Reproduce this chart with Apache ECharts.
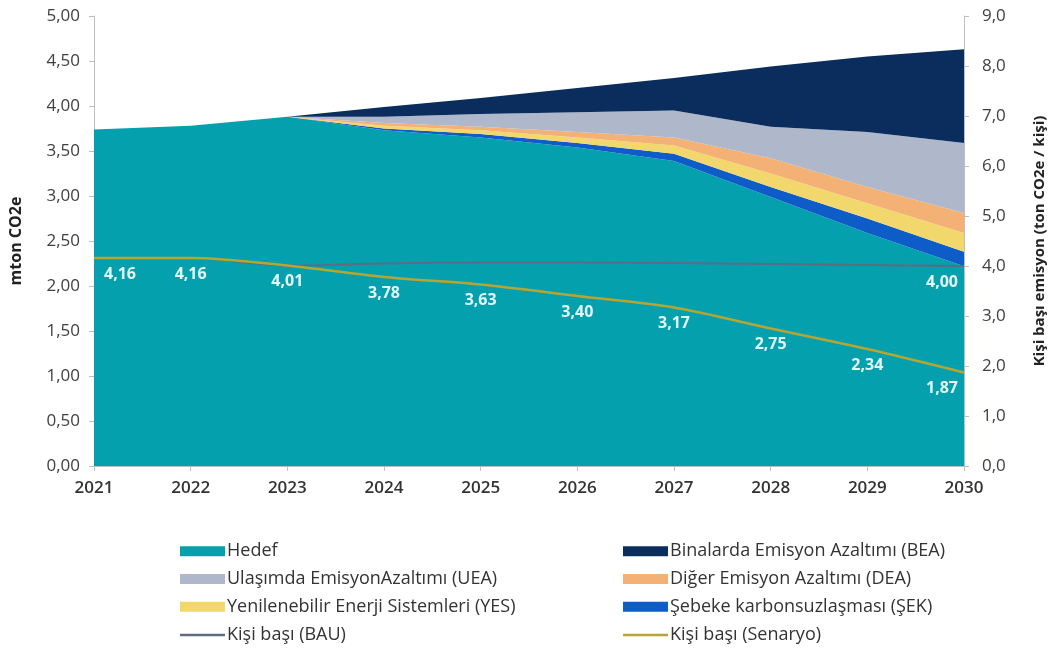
<!DOCTYPE html>
<html>
<head>
<meta charset="utf-8">
<script src="https://cdn.jsdelivr.net/npm/echarts@6/dist/echarts.min.js"></script>
<style>
  html, body { margin: 0; padding: 0; background: #fff; }
  #chart { width: 1055px; height: 660px; }
</style>
</head>
<body>
<div id="chart"></div>
<script>
  const years = ['2021', '2022', '2023', '2024', '2025', '2026', '2027', '2028', '2029', '2030'];

  // stacked areas, mton CO2e (left axis)
  const hedef = [3.74, 3.78, 3.88, 3.73, 3.65, 3.54, 3.39, 2.99, 2.59, 2.22];
  const sek = [0, 0, 0, 0.02, 0.04, 0.05, 0.08, 0.11, 0.16, 0.16];
  const yes = [0, 0, 0, 0.03, 0.04, 0.06, 0.09, 0.15, 0.17, 0.21];
  const dea = [0, 0, 0, 0.03, 0.04, 0.06, 0.09, 0.17, 0.18, 0.22];
  const uea = [0, 0, 0, 0.07, 0.14, 0.22, 0.30, 0.35, 0.61, 0.78];
  const bea = [0, 0, 0, 0.11, 0.18, 0.27, 0.36, 0.67, 0.84, 1.04];

  // per-capita lines, ton CO2e / kişi (right axis)
  const kisiBau = [4.16, 4.16, 4.01, 4.05, 4.07, 4.07, 4.06, 4.04, 4.02, 4.00];
  const kisiSenaryo = [4.16, 4.16, 4.01, 3.78, 3.63, 3.40, 3.17, 2.75, 2.34, 1.87];

  const leftTicks = [0, 0.5, 1, 1.5, 2, 2.5, 3, 3.5, 4, 4.5, 5];
  const rightTicks = [0, 1, 2, 3, 4, 5, 6, 7, 8, 9];

  const FONT = 'Open Sans';
  const comma = (v, d) => v.toFixed(d).replace('.', ',');
  // thin bar inside a 45x10 box, used as legend icon for the two lines
  const LINE_ICON = 'path://M0,0L45,0L45,0.01L0,0.01Z M0,4L45,4L45,6.5L0,6.5Z M0,10L45,10L45,10.01L0,10.01Z';

  const chart = echarts.init(document.getElementById('chart'));

  function area(name, data, color) {
    return {
      name: name,
      type: 'line',
      stack: 'total',
      data: data,
      symbol: 'none',
      lineStyle: { width: 0 },
      areaStyle: { color: color, opacity: 1 },
      itemStyle: { color: color },
      z: 2,
    };
  }

  const senaryoData = kisiSenaryo.map((v, i) => {
    const item = { value: v };
    if (i === 0) item.label = { offset: [26, 0] };
    if (i === kisiSenaryo.length - 1) item.label = { offset: [-22, 0] };
    return item;
  });

  const bauData = kisiBau.map((v, i) => {
    if (i === kisiBau.length - 1) {
      return { value: v, label: { show: true, offset: [-22, 0] } };
    }
    return v;
  });

  const labelStyle = {
    position: 'bottom',
    distance: 8,
    color: '#E4F7F9',
    fontFamily: FONT,
    fontSize: 16,
    fontWeight: 'bold',
    formatter: p => comma(p.value, 2),
  };

  const legendBase = {
    orient: 'vertical',
    top: 537,
    itemWidth: 45,
    itemHeight: 10,
    itemGap: 9.3,
    textStyle: { color: '#333', fontSize: 18, lineHeight: 18.5, fontFamily: FONT, padding: [0, 0, 0, -3] },
  };

  const option = {
    animation: false,
    textStyle: { fontFamily: FONT },
    grid: { left: 89, right: 87, top: 16, bottom: 194 },
    xAxis: {
      type: 'category',
      data: years,
      boundaryGap: false,
      axisLine: { lineStyle: { color: '#BFBFBF' } },
      axisTick: { show: true, length: 5, lineStyle: { color: '#BFBFBF' } },
      axisLabel: { color: '#333', fontSize: 17, fontWeight: 600, margin: 14, fontFamily: FONT },
      splitLine: { show: false },
    },
    yAxis: [
      {
        type: 'value',
        min: leftTicks[0],
        max: leftTicks[leftTicks.length - 1],
        interval: 0.5,
        name: 'mton CO2e',
        nameLocation: 'middle',
        nameRotate: 90,
        nameGap: 70,
        nameTextStyle: { color: '#222', fontSize: 16, fontWeight: 'bold', fontFamily: FONT },
        axisLine: { show: true, lineStyle: { color: '#BFBFBF' } },
        axisTick: { show: true, length: 5, lineStyle: { color: '#BFBFBF' } },
        axisLabel: { color: '#404040', fontSize: 17, margin: 14, formatter: v => comma(v, 2), fontFamily: FONT },
        splitLine: { show: false },
      },
      {
        type: 'value',
        min: rightTicks[0],
        max: rightTicks[rightTicks.length - 1],
        interval: 1,
        name: 'Kişi başı emisyon (ton CO2e / kişi)',
        nameLocation: 'middle',
        nameRotate: 90,
        nameGap: 68,
        nameTextStyle: { color: '#222', fontSize: 15, fontWeight: 'bold', fontFamily: FONT },
        axisLine: { show: true, lineStyle: { color: '#BFBFBF' } },
        axisTick: { show: true, length: 5, lineStyle: { color: '#BFBFBF' } },
        axisLabel: { color: '#404040', fontSize: 17, margin: 18, formatter: v => comma(v, 1), fontFamily: FONT },
        splitLine: { show: false },
      },
    ],
    legend: [
      Object.assign({}, legendBase, {
        left: 175,
        data: [
          { name: 'Hedef', icon: 'rect' },
          { name: 'Ulaşımda EmisyonAzaltımı (UEA)', icon: 'rect' },
          { name: 'Yenilenebilir Enerji Sistemleri (YES)', icon: 'rect' },
          { name: 'Kişi başı (BAU)', icon: LINE_ICON },
        ],
      }),
      Object.assign({}, legendBase, {
        left: 618,
        data: [
          { name: 'Binalarda Emisyon Azaltımı (BEA)', icon: 'rect' },
          { name: 'Diğer Emisyon Azaltımı (DEA)', icon: 'rect' },
          { name: 'Şebeke karbonsuzlaşması (ŞEK)', icon: 'rect' },
          { name: 'Kişi başı (Senaryo)', icon: LINE_ICON },
        ],
      }),
    ],
    series: [
      area('Hedef', hedef, '#05A0AE'),
      area('Şebeke karbonsuzlaşması (ŞEK)', sek, '#0E5CC8'),
      area('Yenilenebilir Enerji Sistemleri (YES)', yes, '#F2D86C'),
      area('Diğer Emisyon Azaltımı (DEA)', dea, '#F4B176'),
      area('Ulaşımda EmisyonAzaltımı (UEA)', uea, '#AEB8CA'),
      area('Binalarda Emisyon Azaltımı (BEA)', bea, '#0B2D5E'),
      {
        name: 'Kişi başı (BAU)',
        type: 'line',
        yAxisIndex: 1,
        data: bauData,
        symbol: 'circle',
        symbolSize: 0.5,
        showSymbol: true,
        smooth: 0.3,
        lineStyle: { color: '#5E6C82', width: 2 },
        itemStyle: { color: '#5E6C82' },
        label: Object.assign({}, labelStyle, { show: false }),
        z: 5,
      },
      {
        name: 'Kişi başı (Senaryo)',
        type: 'line',
        yAxisIndex: 1,
        data: senaryoData,
        symbol: 'circle',
        symbolSize: 0.5,
        showSymbol: true,
        smooth: 0.3,
        lineStyle: { color: '#B6A533', width: 2.5 },
        itemStyle: { color: '#B6A533' },
        label: Object.assign({}, labelStyle, { show: true }),
        z: 6,
      },
    ],
  };

  chart.setOption(option);
</script>
</body>
</html>
